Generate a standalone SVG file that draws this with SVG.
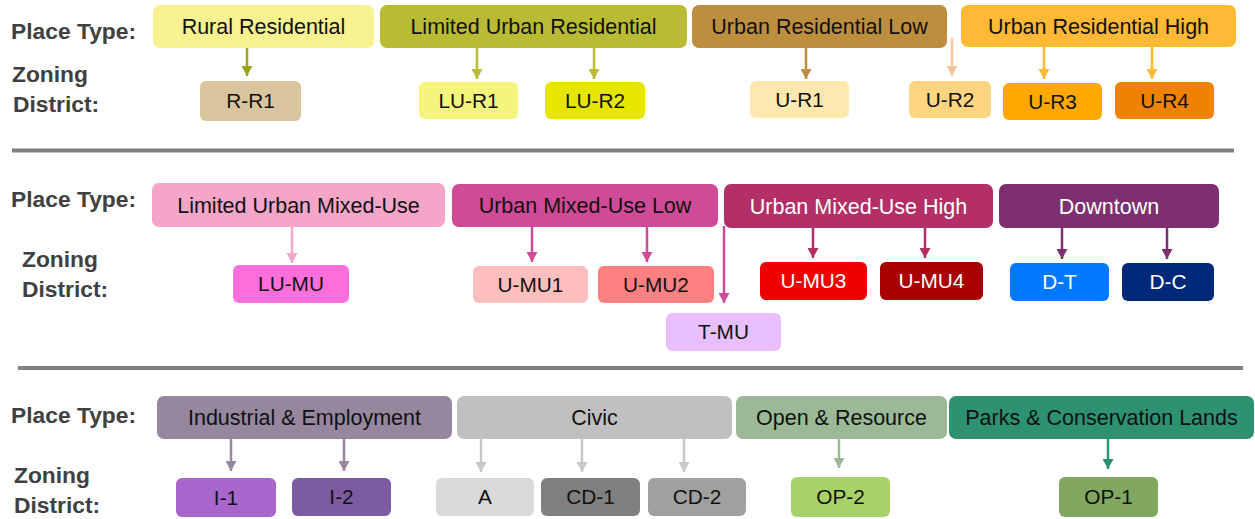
<svg xmlns="http://www.w3.org/2000/svg" width="1255" height="519" viewBox="0 0 1255 519">
<style>
.lbl{font-family:"Liberation Sans",Arial,sans-serif;font-weight:bold;font-size:22.8px;fill:#404040}
.pt{font-family:"Liberation Sans",Arial,sans-serif;font-size:21.5px;fill:#111;text-anchor:middle}
.zd{font-family:"Liberation Sans",Arial,sans-serif;font-size:20.8px;fill:#111;text-anchor:middle}
.w{fill:#fff}
.sep{stroke:#808080;stroke-width:4}
.c{fill:none;stroke-width:2.5}
</style>
<defs>
<marker id="m1" markerUnits="userSpaceOnUse" markerWidth="11" markerHeight="11" refX="10" refY="5.5" orient="auto"><path d="M0,0L10,5.5L0,11z" fill="#9AA51A"/></marker>
<marker id="m2" markerUnits="userSpaceOnUse" markerWidth="11" markerHeight="11" refX="10" refY="5.5" orient="auto"><path d="M0,0L10,5.5L0,11z" fill="#B9BB34"/></marker>
<marker id="m3" markerUnits="userSpaceOnUse" markerWidth="11" markerHeight="11" refX="10" refY="5.5" orient="auto"><path d="M0,0L10,5.5L0,11z" fill="#BD8E3D"/></marker>
<marker id="m4" markerUnits="userSpaceOnUse" markerWidth="11" markerHeight="11" refX="10" refY="5.5" orient="auto"><path d="M0,0L10,5.5L0,11z" fill="#F6C49A"/></marker>
<marker id="m5" markerUnits="userSpaceOnUse" markerWidth="11" markerHeight="11" refX="10" refY="5.5" orient="auto"><path d="M0,0L10,5.5L0,11z" fill="#FFB934"/></marker>
<marker id="m6" markerUnits="userSpaceOnUse" markerWidth="11" markerHeight="11" refX="10" refY="5.5" orient="auto"><path d="M0,0L10,5.5L0,11z" fill="#F4A5C8"/></marker>
<marker id="m7" markerUnits="userSpaceOnUse" markerWidth="11" markerHeight="11" refX="10" refY="5.5" orient="auto"><path d="M0,0L10,5.5L0,11z" fill="#CF4B97"/></marker>
<marker id="m8" markerUnits="userSpaceOnUse" markerWidth="11" markerHeight="11" refX="10" refY="5.5" orient="auto"><path d="M0,0L10,5.5L0,11z" fill="#B32F66"/></marker>
<marker id="m9" markerUnits="userSpaceOnUse" markerWidth="11" markerHeight="11" refX="10" refY="5.5" orient="auto"><path d="M0,0L10,5.5L0,11z" fill="#7E2F6F"/></marker>
<marker id="m10" markerUnits="userSpaceOnUse" markerWidth="11" markerHeight="11" refX="10" refY="5.5" orient="auto"><path d="M0,0L10,5.5L0,11z" fill="#96879E"/></marker>
<marker id="m11" markerUnits="userSpaceOnUse" markerWidth="11" markerHeight="11" refX="10" refY="5.5" orient="auto"><path d="M0,0L10,5.5L0,11z" fill="#C8C8C8"/></marker>
<marker id="m12" markerUnits="userSpaceOnUse" markerWidth="11" markerHeight="11" refX="10" refY="5.5" orient="auto"><path d="M0,0L10,5.5L0,11z" fill="#9BB897"/></marker>
<marker id="m13" markerUnits="userSpaceOnUse" markerWidth="11" markerHeight="11" refX="10" refY="5.5" orient="auto"><path d="M0,0L10,5.5L0,11z" fill="#2E9171"/></marker>
</defs>
<rect width="1255" height="519" fill="#fff"/>

<g id="labels">
<text class="lbl" x="11" y="39">Place Type:</text>
<text class="lbl" x="12" y="82">Zoning</text>
<text class="lbl" x="13" y="112">District:</text>
<text class="lbl" x="11" y="207">Place Type:</text>
<text class="lbl" x="22" y="267">Zoning</text>
<text class="lbl" x="22" y="297">District:</text>
<text class="lbl" x="11" y="423">Place Type:</text>
<text class="lbl" x="14" y="483">Zoning</text>
<text class="lbl" x="14" y="513">District:</text>
</g>

<g id="separators">
<line class="sep" x1="12" y1="150.5" x2="1234" y2="150.5"/>
<line class="sep" x1="18" y1="368" x2="1243" y2="368"/>
</g>

<g id="connectors">
<line class="c" stroke="#9AA51A" marker-end="url(#m1)" x1="247" y1="48" x2="247" y2="76"/>
<line class="c" stroke="#B9BB34" marker-end="url(#m2)" x1="477" y1="48" x2="477" y2="79"/>
<line class="c" stroke="#B9BB34" marker-end="url(#m2)" x1="594" y1="48" x2="594" y2="79"/>
<line class="c" stroke="#BD8E3D" marker-end="url(#m3)" x1="806" y1="48" x2="806" y2="79"/>
<line class="c" stroke="#F6C49A" marker-end="url(#m4)" x1="952" y1="38" x2="952" y2="76"/>
<line class="c" stroke="#FFB934" marker-end="url(#m5)" x1="1044" y1="47" x2="1044" y2="79"/>
<line class="c" stroke="#FFB934" marker-end="url(#m5)" x1="1152" y1="47" x2="1152" y2="79"/>
<line class="c" stroke="#F4A5C8" marker-end="url(#m6)" x1="292" y1="227" x2="292" y2="263"/>
<line class="c" stroke="#CF4B97" marker-end="url(#m7)" x1="532" y1="227" x2="532" y2="262"/>
<line class="c" stroke="#CF4B97" marker-end="url(#m7)" x1="647" y1="227" x2="647" y2="262"/>
<line class="c" stroke="#CF4B97" marker-end="url(#m7)" x1="724" y1="226" x2="724" y2="303"/>
<line class="c" stroke="#B32F66" marker-end="url(#m8)" x1="813" y1="228" x2="813" y2="258"/>
<line class="c" stroke="#B32F66" marker-end="url(#m8)" x1="925" y1="228" x2="925" y2="258"/>
<line class="c" stroke="#7E2F6F" marker-end="url(#m9)" x1="1062" y1="228" x2="1062" y2="259"/>
<line class="c" stroke="#7E2F6F" marker-end="url(#m9)" x1="1167" y1="228" x2="1167" y2="259"/>
<line class="c" stroke="#96879E" marker-end="url(#m10)" x1="231" y1="439" x2="231" y2="471"/>
<line class="c" stroke="#96879E" marker-end="url(#m10)" x1="344" y1="439" x2="344" y2="471"/>
<line class="c" stroke="#C8C8C8" marker-end="url(#m11)" x1="481" y1="439" x2="481" y2="472"/>
<line class="c" stroke="#C8C8C8" marker-end="url(#m11)" x1="582" y1="439" x2="582" y2="472"/>
<line class="c" stroke="#C8C8C8" marker-end="url(#m11)" x1="684" y1="439" x2="684" y2="472"/>
<line class="c" stroke="#9BB897" marker-end="url(#m12)" x1="839" y1="439" x2="839" y2="468"/>
<line class="c" stroke="#2E9171" marker-end="url(#m13)" x1="1108" y1="439" x2="1108" y2="469"/>
</g>

<g id="rural-residential"><rect x="153" y="5" width="221" height="43" rx="7" fill="#F7F18F"/><text class="pt" x="263.5" y="34">Rural Residential</text></g>
<g id="limited-urban-residential"><rect x="380" y="5" width="307" height="43" rx="7" fill="#B9BB34"/><text class="pt" x="533.5" y="34">Limited Urban Residential</text></g>
<g id="urban-residential-low"><rect x="692" y="5" width="255" height="43" rx="7" fill="#BD8E3D"/><text class="pt" x="819.5" y="34">Urban Residential Low</text></g>
<g id="urban-residential-high"><rect x="961" y="5" width="275" height="42" rx="7" fill="#FFB934"/><text class="pt" x="1098.5" y="33.5">Urban Residential High</text></g>

<g id="r-r1"><rect x="200" y="81" width="101" height="40" rx="6" fill="#D8C59E"/><text class="zd" x="250.5" y="108">R-R1</text></g>
<g id="lu-r1"><rect x="419" y="82" width="99" height="37" rx="6" fill="#F5F57D"/><text class="zd" x="468.5" y="108">LU-R1</text></g>
<g id="lu-r2"><rect x="545" y="82" width="100" height="37" rx="6" fill="#E6E600"/><text class="zd" x="595" y="108">LU-R2</text></g>
<g id="u-r1"><rect x="750" y="81" width="99" height="37" rx="6" fill="#FFE8AD"/><text class="zd" x="799.5" y="107">U-R1</text></g>
<g id="u-r2"><rect x="909" y="81" width="82" height="37" rx="6" fill="#FFD582"/><text class="zd" x="950" y="107">U-R2</text></g>
<g id="u-r3"><rect x="1003" y="83" width="99" height="37" rx="6" fill="#FFA800"/><text class="zd" x="1052.5" y="109">U-R3</text></g>
<g id="u-r4"><rect x="1115" y="82" width="99" height="37" rx="6" fill="#EF8200"/><text class="zd" x="1164.5" y="108">U-R4</text></g>

<g id="limited-urban-mixed-use"><rect x="152" y="183" width="293" height="44" rx="7" fill="#F4A5C8"/><text class="pt" x="298.5" y="213">Limited Urban Mixed-Use</text></g>
<g id="urban-mixed-use-low"><rect x="452" y="184" width="266" height="43" rx="7" fill="#CF4B97"/><text class="pt" x="585" y="213">Urban Mixed-Use Low</text></g>
<g id="urban-mixed-use-high"><rect x="724" y="184" width="269" height="44" rx="7" fill="#B32F66"/><text class="pt w" x="858.5" y="213.5">Urban Mixed-Use High</text></g>
<g id="downtown"><rect x="999" y="184" width="220" height="44" rx="7" fill="#7E2F6F"/><text class="pt w" x="1109" y="213.5">Downtown</text></g>

<g id="lu-mu"><rect x="233" y="265" width="116" height="38" rx="6" fill="#FF6FDC"/><text class="zd" x="291" y="291">LU-MU</text></g>
<g id="u-mu1"><rect x="473" y="266" width="115" height="37" rx="6" fill="#FFBEBE"/><text class="zd" x="530.5" y="291.5">U-MU1</text></g>
<g id="u-mu2"><rect x="598" y="266" width="116" height="37" rx="6" fill="#FF8080"/><text class="zd" x="656" y="291.5">U-MU2</text></g>
<g id="t-mu"><rect x="666" y="313" width="115" height="38" rx="6" fill="#E8BEFF"/><text class="zd" x="723.5" y="339">T-MU</text></g>
<g id="u-mu3"><rect x="760" y="262" width="107" height="38" rx="6" fill="#EE0000"/><text class="zd w" x="813.5" y="288">U-MU3</text></g>
<g id="u-mu4"><rect x="880" y="262" width="103" height="38" rx="6" fill="#A80000"/><text class="zd w" x="931.5" y="288">U-MU4</text></g>
<g id="d-t"><rect x="1010" y="263" width="99" height="38" rx="6" fill="#0078FF"/><text class="zd w" x="1059.5" y="289">D-T</text></g>
<g id="d-c"><rect x="1122" y="263" width="92" height="38" rx="6" fill="#00297A"/><text class="zd w" x="1168" y="289">D-C</text></g>

<g id="industrial-employment"><rect x="157" y="396" width="295" height="43" rx="7" fill="#96879E"/><text class="pt" x="304.5" y="425">Industrial &amp; Employment</text></g>
<g id="civic"><rect x="457" y="396" width="275" height="43" rx="7" fill="#C0C0C0"/><text class="pt" x="594.5" y="425">Civic</text></g>
<g id="open-resource"><rect x="736" y="396" width="211" height="43" rx="7" fill="#9BB897"/><text class="pt" x="841.5" y="425">Open &amp; Resource</text></g>
<g id="parks-conservation"><rect x="949" y="396" width="305" height="43" rx="7" fill="#2E9171"/><text class="pt" x="1101.5" y="425">Parks &amp; Conservation Lands</text></g>

<g id="i-1"><rect x="176" y="478" width="100" height="39" rx="6" fill="#A865CC"/><text class="zd" x="226" y="504.5">I-1</text></g>
<g id="i-2"><rect x="292" y="478" width="99" height="38" rx="6" fill="#7D5BA0"/><text class="zd" x="341.5" y="504">I-2</text></g>
<g id="a"><rect x="436" y="478" width="98" height="38" rx="6" fill="#D9D9D9"/><text class="zd" x="485" y="504">A</text></g>
<g id="cd-1"><rect x="541" y="478" width="99" height="38" rx="6" fill="#808080"/><text class="zd" x="590.5" y="504">CD-1</text></g>
<g id="cd-2"><rect x="648" y="478" width="98" height="38" rx="6" fill="#A0A0A0"/><text class="zd" x="697" y="504">CD-2</text></g>
<g id="op-2"><rect x="791" y="477" width="99" height="40" rx="6" fill="#A9D16A"/><text class="zd" x="840.5" y="504">OP-2</text></g>
<g id="op-1"><rect x="1059" y="477" width="99" height="40" rx="6" fill="#82A760"/><text class="zd" x="1108.5" y="504">OP-1</text></g>
</svg>
